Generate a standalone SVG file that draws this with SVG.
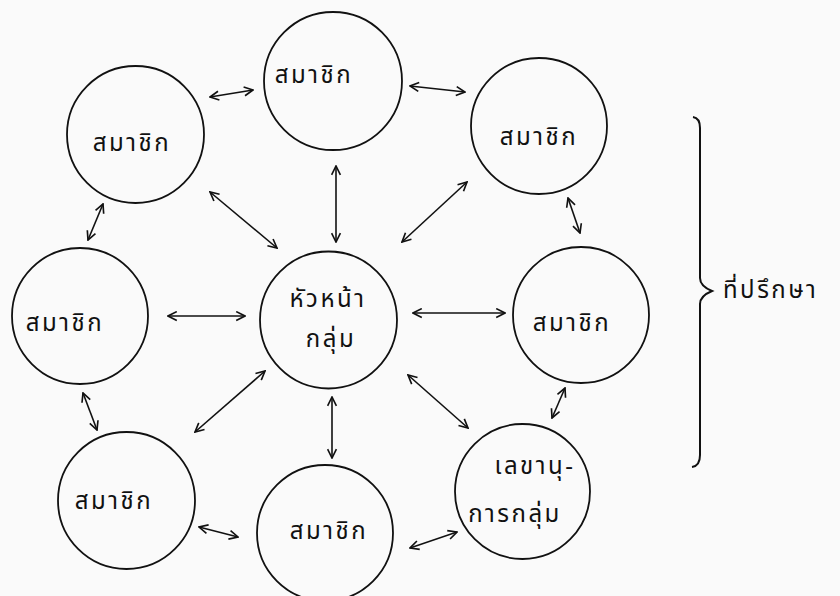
<svg xmlns="http://www.w3.org/2000/svg" width="840" height="596" viewBox="0 0 840 596">
<style>
.n{fill:none;stroke:#111;stroke-width:1.8}
.t{font-family:"Noto Sans Thai","Noto Sans","Liberation Sans",sans-serif;font-size:24px;letter-spacing:2.5px;fill:#111;text-anchor:middle}
.c{stroke:#111;stroke-width:1.6;fill:none;marker-start:url(#a);marker-end:url(#a)}
</style>
<defs>
<marker id="a" viewBox="0 0 10 10" refX="9" refY="5" markerWidth="11" markerHeight="11" orient="auto-start-reverse" markerUnits="userSpaceOnUse">
<path d="M1,1 L9,5 L1,9" fill="none" stroke="#111" stroke-width="1.5"/>
</marker>
</defs>
<rect width="840" height="596" fill="#fafafa"/>
<g id="n1"><circle class="n" cx="135.5" cy="134.5" r="68.5"/><text class="t" x="132" y="151">สมาชิก</text></g>
<g id="n2"><circle class="n" cx="333" cy="81" r="69"/><text class="t" x="314" y="83">สมาชิก</text></g>
<g id="n3"><circle class="n" cx="539" cy="126" r="68"/><text class="t" x="539" y="145">สมาชิก</text></g>
<g id="n4"><circle class="n" cx="80" cy="316" r="68"/><text class="t" x="65" y="331">สมาชิก</text></g>
<g id="n5"><circle class="n" cx="328.5" cy="320" r="68.5"/><text class="t" x="328" y="307">หัวหน้า</text><text class="t" x="331" y="347">กลุ่ม</text></g>
<g id="n6"><circle class="n" cx="581" cy="315" r="68"/><text class="t" x="572" y="331">สมาชิก</text></g>
<g id="n7"><circle class="n" cx="126.5" cy="500.5" r="68.5"/><text class="t" x="114" y="509">สมาชิก</text></g>
<g id="n8"><circle class="n" cx="325" cy="533" r="68"/><text class="t" x="329" y="539">สมาชิก</text></g>
<g id="n9"><circle class="n" cx="522.5" cy="491.5" r="67.5"/><text class="t" x="535" y="474">เลขานุ-</text><text class="t" x="515" y="522">การกลุ่ม</text></g>
<g id="connectors">
<line class="c" x1="210" y1="97" x2="253" y2="90"/>
<line class="c" x1="410" y1="86" x2="465" y2="92"/>
<line class="c" x1="103" y1="204" x2="88" y2="240"/>
<line class="c" x1="568" y1="198" x2="580" y2="233"/>
<line class="c" x1="210" y1="192" x2="277" y2="248"/>
<line class="c" x1="336" y1="166" x2="336" y2="242"/>
<line class="c" x1="467" y1="182" x2="402" y2="242"/>
<line class="c" x1="168" y1="316" x2="245" y2="316"/>
<line class="c" x1="413" y1="313" x2="505" y2="313"/>
<line class="c" x1="83" y1="393" x2="97" y2="430"/>
<line class="c" x1="565" y1="388" x2="552" y2="418"/>
<line class="c" x1="265" y1="371" x2="195" y2="432"/>
<line class="c" x1="332" y1="397" x2="332" y2="458"/>
<line class="c" x1="408" y1="375" x2="468" y2="428"/>
<line class="c" x1="199" y1="527" x2="238" y2="537"/>
<line class="c" x1="410" y1="548" x2="457" y2="532"/>
</g>
<g id="brace">
<path d="M693,117 Q700,118 700,128 L700,278 Q700,286 712,291 Q700,296 700,304 L700,455 Q700,466 692,467" fill="none" stroke="#111" stroke-width="2"/>
<text x="723" y="298" style="font-family:'Noto Sans Thai','Noto Sans','Liberation Sans',sans-serif;font-size:24px;letter-spacing:2.5px;fill:#111">ที่ปรึกษา</text>
</g>
</svg>
